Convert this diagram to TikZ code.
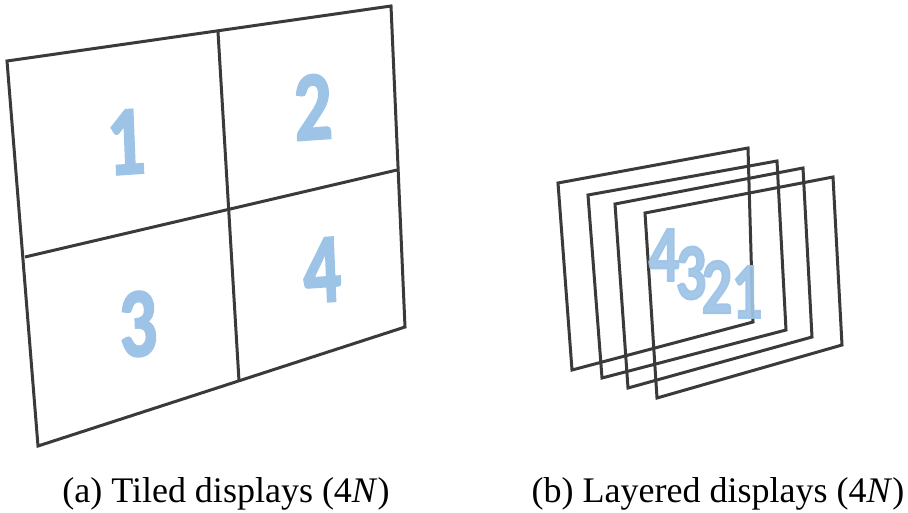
\documentclass[tikz,border=0pt]{standalone}
\usepackage{fontspec}
\newfontfamily\digitfont[UprightFont={* Bold},FakeBold=2.5]{Carlito}
\newfontfamily\capfont{Liberation Serif}
\definecolor{frameline}{HTML}{3A3A3A}
\definecolor{numblue}{HTML}{9DC3E6}
\begin{document}
\begin{tikzpicture}[x=1pt,y=-1pt,
  frame/.style={draw=frameline,line width=3pt,line join=miter},
  bigdigit/.style={text=numblue,font=\digitfont\fontsize{98}{98}\selectfont,inner sep=0pt,xscale=0.76,rotate=3},
  smalldigit/.style={text=numblue,opacity=0.92,font=\digitfont\fontsize{80}{80}\selectfont,inner sep=0pt,xscale=0.76},
  caption/.style={font=\capfont\fontsize{36}{40}\selectfont,anchor=base,inner sep=0pt}]
\useasboundingbox (0,0) rectangle (908,512);

% ---- (a) tiled display: one panel split into four tiles ----
\coordinate (tl) at (7,61);
\coordinate (tr) at (391,6);
\coordinate (br) at (405,327);
\coordinate (bl) at (38,446);
\coordinate (tm) at (218,32);
\coordinate (bm) at (239,381);
\coordinate (lm) at (25,257);
\coordinate (rm) at (397,170);
\draw[frame] (tl) -- (tr) -- (br) -- (bl) -- cycle;
\draw[frame] (tm) -- (bm);
\draw[frame] (lm) -- (rm);

\node[bigdigit] (n1) at (126,142) {1};
\node[bigdigit] (n2) at (313,107) {2};
\node[bigdigit] (n3) at (138,324) {3};
\node[bigdigit] (n4) at (322,270) {4};

% ---- (b) layered display: four stacked frames ----
\draw[frame] (558,183) -- (748,148) -- (753,322) -- (572,370) -- cycle;
\draw[frame] (588,195) -- (777,161) -- (786,330) -- (602,378) -- cycle;
\draw[frame] (615,204) -- (803,168) -- (812,337) -- (628,388) -- cycle;
\draw[frame] (645,213) -- (833,177) -- (842,345) -- (657,398) -- cycle;

\node[smalldigit] (m4) at (664,255) {4};
\node[smalldigit] (m3) at (691,273) {3};
\node[smalldigit] (m2) at (717,287) {2};
\node[smalldigit] (m1) at (747,292) {1};

% ---- captions ----
\node[caption] (capa) at (226,502) {(a) Tiled displays (4\textit{N})};
\node[caption] (capb) at (718,502) {(b) Layered displays (4\textit{N})};
\end{tikzpicture}
\end{document}
